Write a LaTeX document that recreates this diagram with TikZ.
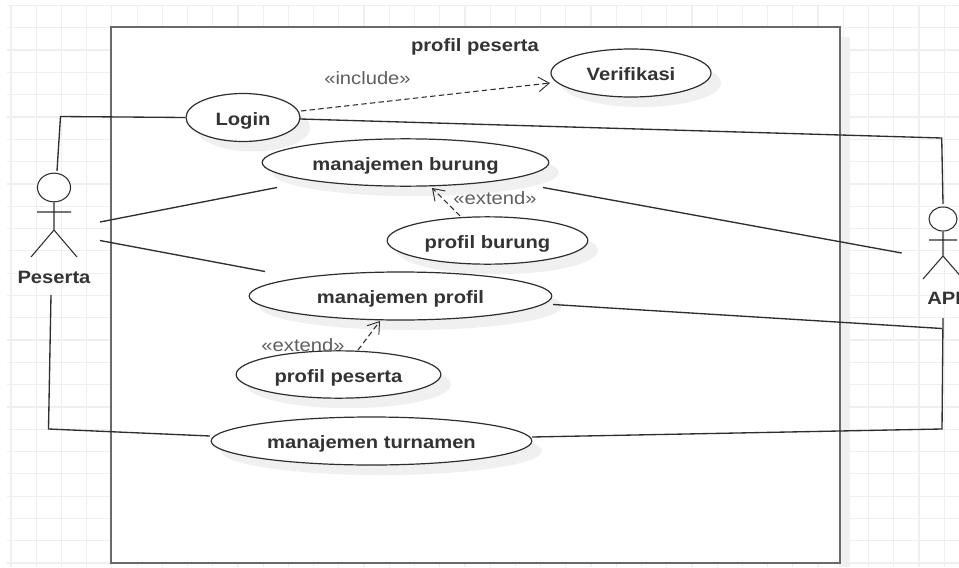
\documentclass[tikz,border=0pt]{standalone}
\usepackage{fontspec}
\setmainfont[FakeStretch=1.13]{Liberation Sans}
\usetikzlibrary{shapes.geometric,arrows.meta,shadows}
\definecolor{gridc}{HTML}{EFEFEF}
\definecolor{shadc}{HTML}{F0F0F0}
\definecolor{framec}{HTML}{6A6A6A}
\definecolor{linec}{HTML}{2E2E2E}
\definecolor{textc}{HTML}{333333}
\definecolor{stereoc}{HTML}{5F5F5F}
\tikzset{
  x=0.75pt,y=-0.75pt,
  gridline/.style={draw=gridc,line width=0.9pt},
  frame/.style={draw=framec,line width=1.5pt,fill=white},
  usecase/.style={ellipse,draw=linec,line width=0.9pt,fill=white,inner sep=0pt,text=textc,font=\fontsize{13.4}{15}\selectfont\bfseries,
     text height=12pt,text depth=0.5pt,
     drop shadow={shadow xshift=7.5pt,shadow yshift=-7.5pt,fill=shadc,opacity=1}},
  assoc/.style={draw=linec,line width=1pt},
  depend/.style={draw=linec,line width=0.8pt,dashed,dash pattern=on 4pt off 2.5pt,-{Straight Barb[length=8pt,width=11pt,line width=0.7pt]}},
  stereo/.style={text=stereoc,font=\fontsize{13.4}{15}\selectfont,inner sep=0pt},
  actorname/.style={text=textc,font=\fontsize{13.4}{15}\selectfont\bfseries,inner sep=0pt},
  titlelabel/.style={text=textc,font=\fontsize{13.4}{15}\selectfont\bfseries,inner sep=0pt},
  head/.style={ellipse,draw=linec,line width=0.8pt,fill=white,inner sep=0pt},
  limb/.style={draw=linec,line width=0.8pt},
}
\begin{document}
\begin{tikzpicture}
\clip (0,0) rectangle (959,567);
\fill[white] (0,0) rectangle (959,567);
% grid
\foreach \i in {0,...,37} \draw[gridline] ({11+25.22*\i},5) -- ({11+25.22*\i},567);
\foreach \j in {0,...,25} \draw[gridline] (7,{5.5+22.3*\j}) -- (959,{5.5+22.3*\j});
% system frame and the shadow on its right
\fill[shadc] (839,37) rectangle (850,567);
\node[frame,minimum width=546.4pt,minimum height=402pt,inner sep=0pt] (sys) at (475.25,295) {};
\node[titlelabel] (title) at (475,46.5) {profil peserta};
% use cases
\node[usecase,minimum width=85.5pt,minimum height=36pt] (login) at (243,117.5) {Login};
\node[usecase,minimum width=120pt,minimum height=36pt] (verif) at (631,73) {Verifikasi};
\node[usecase,minimum width=215pt,minimum height=35.5pt] (mb) at (405.5,162.5) {manajemen burung};
\node[usecase,minimum width=150.5pt,minimum height=35.5pt] (pb) at (487.5,240.5) {profil burung};
\node[usecase,minimum width=227pt,minimum height=36pt] (mp) at (400.5,296) {manajemen profil};
\node[usecase,minimum width=153.5pt,minimum height=35.5pt] (pp) at (338.5,374.5) {profil peserta};
\node[usecase,minimum width=240.5pt,minimum height=36pt] (mt) at (371.5,441) {manajemen turnamen};
% actor Peserta
\node[head,minimum width=24.8pt,minimum height=21.5pt] (pesHead) at (54,187.5) {};
\coordinate (pesHip) at (54,230);
\coordinate (pesL) at (31,257);
\coordinate (pesR) at (77,257);
\coordinate (pesArmL) at (37,212);
\coordinate (pesArmR) at (71,212);
\draw[limb] (pesHead.south) -- (pesHip) (pesArmL) -- (pesArmR) (pesL) -- (pesHip) -- (pesR);
\node[actorname] (peserta) at (54,277) {Peserta};
% actor API
\node[head,minimum width=21pt,minimum height=18pt] (apiHead) at (943,219) {};
\coordinate (apiHip) at (943,256);
\coordinate (apiL) at (923,279);
\coordinate (apiR) at (963,279);
\coordinate (apiArmL) at (929,240);
\coordinate (apiArmR) at (957,240);
\draw[limb] (apiHead.south) -- (apiHip) (apiArmL) -- (apiArmR) (apiL) -- (apiHip) -- (apiR);
\node[actorname,anchor=west] (api) at (927,298) {API};
% connector ends
\coordinate (a1) at (57,171);
\coordinate (a2) at (60.5,116.5);
\coordinate (b1) at (100,222);
\coordinate (b2) at (277,187.5);
\coordinate (c1) at (100,240.5);
\coordinate (c2) at (265,271.5);
\coordinate (d1) at (51,295);
\coordinate (d2) at (48.5,429);
\coordinate (d3) at (210,436);
\coordinate (e1) at (300,119);
\coordinate (e2) at (941.7,138);
\coordinate (e3) at (943,204);
\coordinate (f1) at (543,187.5);
\coordinate (f2) at (901.7,253);
\coordinate (g1) at (553,304.5);
\coordinate (g2) at (942,328.5);
\coordinate (h1) at (943,318);
\coordinate (h2) at (942,429);
\coordinate (h3) at (532,437);
\coordinate (i1) at (301,111);
\coordinate (i2) at (550,83);
\coordinate (j1) at (460,216);
\coordinate (j2) at (432,188);
\coordinate (k1) at (358,350);
\coordinate (k2) at (380,321);
% associations
\draw[assoc] (a1) -- (a2) -- (login.west);
\draw[assoc] (b1) -- (b2);
\draw[assoc] (c1) -- (c2);
\draw[assoc] (d1) -- (d2) -- (d3);
\draw[assoc] (e1) -- (e2) -- (e3);
\draw[assoc] (f1) -- (f2);
\draw[assoc] (g1) -- (g2);
\draw[assoc] (h1) -- (h2) -- (h3);
% dependencies
\draw[depend] (i1) -- (i2);
\draw[depend] (j1) -- (j2);
\draw[depend] (k1) -- (k2);
\node[stereo] (inc) at (367.5,78.5) {«include»};
\node[stereo] (ext1) at (495,198.5) {«extend»};
\node[stereo] (ext2) at (303,345) {«extend»};
\end{tikzpicture}
\end{document}
